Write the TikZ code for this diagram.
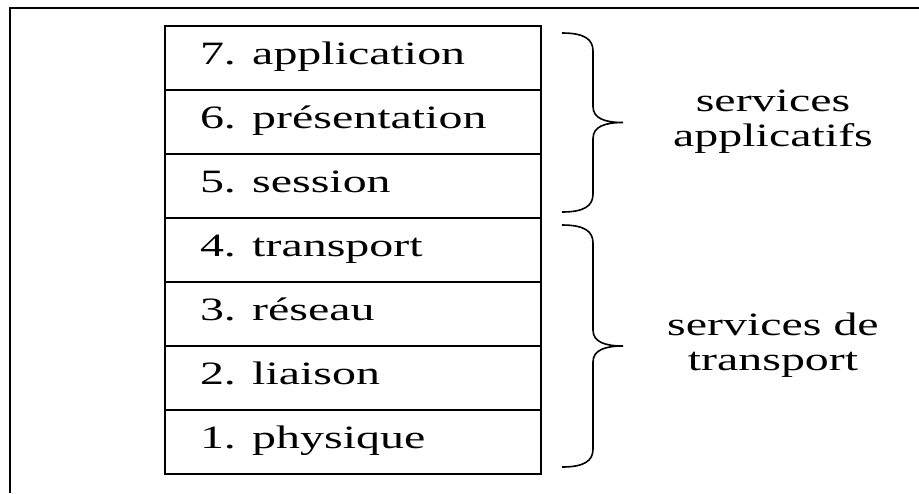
\documentclass[tikz,border=0pt]{standalone}
\usepackage{fontspec}
\setmainfont{Liberation Serif}[FakeStretch=1.47]
\usetikzlibrary{positioning,calc}

% curly brace between two named points, opening to the right
\newcommand{\accolade}[2]{%
  \draw[accol] (#1) .. controls +(22,0) and +(0,-12) .. ($(#1)+(31,18)$)
    -- ($(#1)!0.5!(#2)+(31,-16)$) .. controls +(0,12) and +(-18,0) .. ($(#1)!0.5!(#2)+(61,0)$)
    .. controls +(-18,0) and +(0,-12) .. ($(#1)!0.5!(#2)+(31,16)$)
    -- ($(#2)+(31,-18)$) .. controls +(0,12) and +(22,0) .. (#2);}

\begin{document}
\begin{tikzpicture}[x=0.5pt,y=-0.5pt,font=\fontsize{16.3}{17.5}\selectfont,
  layer/.style={draw,line width=0.9pt,outer sep=0pt,inner xsep=17.5pt,inner ysep=0pt,
    text width=153pt,align=left,minimum height=32pt,text height=0.9em,text depth=0.22em},
  accol/.style={line width=0.8pt},
  groupe/.style={align=center}]
  \useasboundingbox (0,0) rectangle (919,493);
  \draw[line width=1pt] (10,493) -- (10,8) -- (919,8);
  % the seven layers
  \foreach \n/\t in {7/application,6/présentation,5/session,4/transport,3/réseau,2/liaison,1/physique}
    \node[layer] (l\n) at (353,{58+64*(7-\n)}) {\n. \t};
  % groups
  \coordinate (h1) at ([xshift=10.5pt,yshift=-3.5pt]l7.north east);
  \coordinate (b1) at ([xshift=10.5pt,yshift=3pt]l5.south east);
  \coordinate (h2) at ([xshift=10.5pt,yshift=-3.5pt]l4.north east);
  \coordinate (b2) at ([xshift=10.5pt,yshift=3.5pt]l1.south east);
  \accolade{h1}{b1}
  \accolade{h2}{b2}
  \node[groupe] (appl) at (773,122) {services\\applicatifs};
  \node[groupe] (transp) at (773,345) {services de\\transport};
\end{tikzpicture}
\end{document}
